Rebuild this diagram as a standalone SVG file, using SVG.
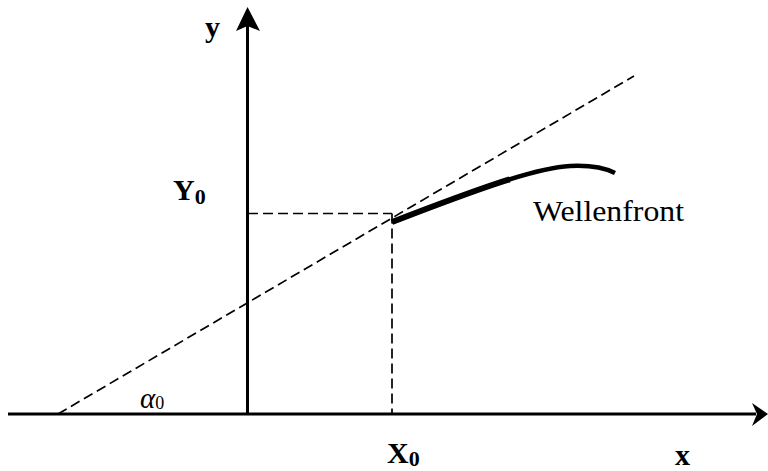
<svg xmlns="http://www.w3.org/2000/svg" width="768" height="471" viewBox="0 0 768 471">
<defs>
<style>
.axis{stroke:#000;stroke-width:3;fill:none}
.dash{stroke:#000;stroke-width:1.7;fill:none;stroke-dasharray:10 5}
.lbl{font-family:"Liberation Serif","Times New Roman","DejaVu Serif",serif;font-weight:bold;font-size:30px;fill:#000}
.sub{font-size:22px}
.txt{font-family:"Liberation Serif","Times New Roman","DejaVu Serif",serif;font-size:29px;fill:#000}
.alpha{font-family:"Liberation Serif","Times New Roman","DejaVu Serif",serif;font-style:italic;font-size:29px;fill:#000}
.asub{font-style:normal;font-size:18px}
</style>
</defs>
<rect width="768" height="471" fill="#fff"/>
<g id="connectors">
<line class="axis" x1="8" y1="414" x2="756" y2="414"/>
<polygon points="768,414 752,403 757,414 752,426" fill="#000"/>
<line class="axis" x1="247.5" y1="414" x2="247.5" y2="26"/>
<polygon points="247.5,7 236,31 247.5,26 260,31" fill="#000"/>
<line class="dash" x1="58" y1="414" x2="634" y2="76"/>
<line class="dash" x1="248" y1="213.5" x2="392" y2="213.5"/>
<line class="dash" x1="392" y1="213.5" x2="392" y2="414"/>
</g>
<g id="wavefront">
<path d="M392,222 C450,200 530,168 570,166 C590,165 605,168 615,173" stroke="#000" stroke-width="4.5" fill="none"/>
<path d="M392,222 C450,200 530,168 570,166 C590,165 605,168 615,173" stroke="#000" stroke-width="6" fill="none" stroke-dasharray="125 1000"/>
<text class="txt" x="533" y="221" textLength="151" lengthAdjust="spacingAndGlyphs">Wellenfront</text>
</g>
<g id="labels">
<text class="lbl" x="205" y="37">y</text>
<text class="lbl" x="173" y="200">Y<tspan class="sub" dy="4">0</tspan></text>
<text class="lbl" x="387" y="463">X<tspan class="sub" dy="3">0</tspan></text>
<text class="lbl" x="675" y="465">x</text>
<text class="alpha" x="140" y="408">α<tspan class="asub" dy="1">0</tspan></text>
</g>
</svg>
